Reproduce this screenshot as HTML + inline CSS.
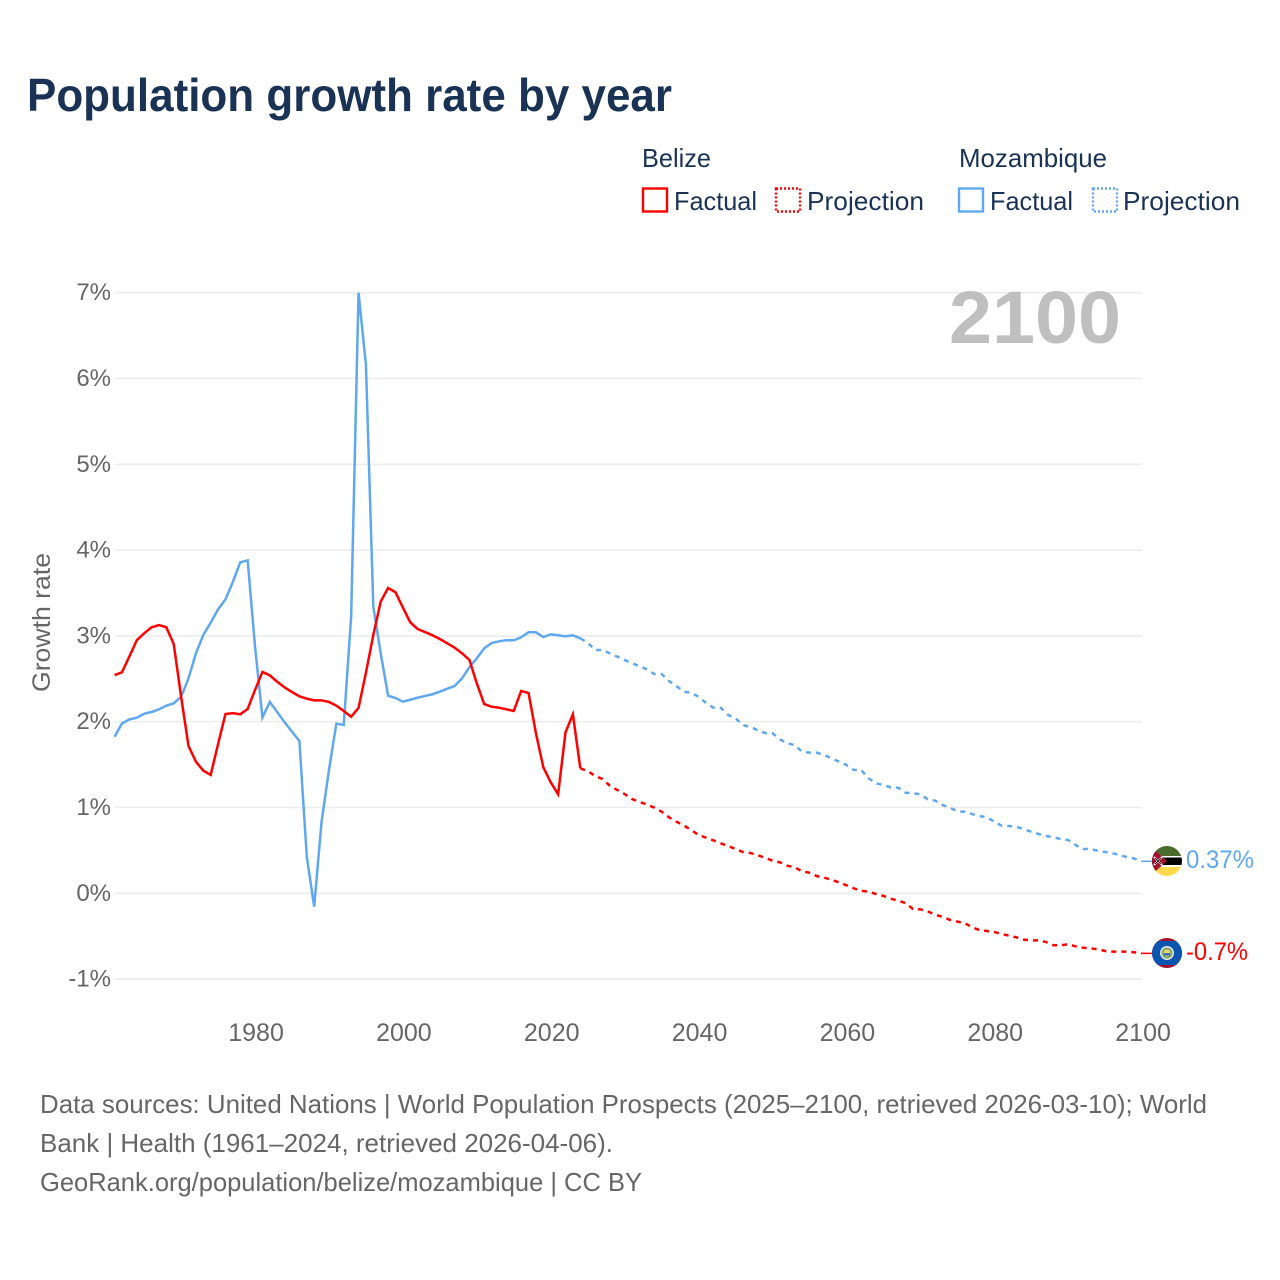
<!DOCTYPE html>
<html lang="en">
<head>
<meta charset="utf-8">
<title>Population growth rate by year</title>
<style>
html,body{margin:0;padding:0;background:#fff;}
svg{display:block;font-family:"Liberation Sans",sans-serif;}
</style>
</head>
<body>
<svg id="chart" xmlns="http://www.w3.org/2000/svg" width="1280" height="1280" viewBox="0 0 1280 1280">
  <rect x="0" y="0" width="1280" height="1280" fill="#ffffff"/>
  <text x="27" y="111" font-size="46" font-weight="700" fill="#1a3355" textLength="645" lengthAdjust="spacingAndGlyphs">Population growth rate by year</text>

  <g font-size="26" fill="#1a3355">
    <text x="642" y="167" textLength="69" lengthAdjust="spacingAndGlyphs">Belize</text>
    <text x="959" y="167" textLength="148" lengthAdjust="spacingAndGlyphs">Mozambique</text>
    <rect x="643" y="188.5" width="24" height="23" fill="none" stroke="#ff0000" stroke-width="2.4"/>
    <text x="674" y="210" textLength="83" lengthAdjust="spacingAndGlyphs">Factual</text>
    <rect x="776" y="188.5" width="24" height="23" fill="none" stroke="#ff0000" stroke-width="2.4" stroke-dasharray="2 2"/>
    <text x="807" y="210" textLength="117" lengthAdjust="spacingAndGlyphs">Projection</text>
    <rect x="959" y="188.5" width="24" height="23" fill="none" stroke="#60a8ee" stroke-width="2.4"/>
    <text x="990" y="210" textLength="83" lengthAdjust="spacingAndGlyphs">Factual</text>
    <rect x="1093" y="188.5" width="24" height="23" fill="none" stroke="#60a8ee" stroke-width="2.4" stroke-dasharray="2 2"/>
    <text x="1123" y="210" textLength="117" lengthAdjust="spacingAndGlyphs">Projection</text>
  </g>

  <g id="grid"></g>
  <g id="y-ticks" font-size="24" fill="#666666" text-anchor="end"></g>
  <g id="x-ticks" font-size="25" fill="#666666" text-anchor="middle"></g>

  <text transform="translate(50,622.5) rotate(-90)" font-size="25" fill="#666666" text-anchor="middle" textLength="139" lengthAdjust="spacingAndGlyphs">Growth rate</text>
  <text x="949" y="343" font-size="74" font-weight="700" fill="#bfbfbf" textLength="172" lengthAdjust="spacingAndGlyphs">2100</text>

  <g id="series"></g>

  <g>
    <clipPath id="clip-moz"><circle cx="1167" cy="861" r="15"/></clipPath>
    <g clip-path="url(#clip-moz)">
      <rect x="1152" y="846" width="30" height="10" fill="#4a6b2c"/>
      <rect x="1152" y="856" width="30" height="1.5" fill="#ffffff"/>
      <rect x="1152" y="857.5" width="30" height="7.5" fill="#000000"/>
      <rect x="1152" y="865" width="30" height="2" fill="#ffffff"/>
      <rect x="1152" y="867" width="30" height="10" fill="#ffd84d"/>
      <polygon points="1150,846 1167,861 1150,876" fill="#a2112e"/>
      <path d="M1154 857 L1162 865 M1162 857 L1154 865" stroke="#ffffff" stroke-width="1.6"/>
      <path d="M1155 858 L1161 864 M1161 858 L1155 864" stroke="#000000" stroke-width="0.8"/>
    </g>
  </g>
  <g>
    <clipPath id="clip-blz"><circle cx="1167" cy="953" r="15"/></clipPath>
    <g clip-path="url(#clip-blz)">
      <rect x="1152" y="938" width="30" height="30" fill="#a2112e"/>
      <rect x="1152" y="941" width="30" height="24" fill="#0a55b0"/>
      <circle cx="1167" cy="953" r="7" fill="#e8e8e0"/>
      <circle cx="1167" cy="953" r="5.5" fill="#7fa870"/>
      <circle cx="1167" cy="953" r="3.4" fill="#f0d860"/>
      <rect x="1163.8" y="953" width="6.4" height="2.6" fill="#3d6fb0"/>
    </g>
  </g>

  <text x="1186" y="868" font-size="25" fill="#60a8ee" textLength="68" lengthAdjust="spacingAndGlyphs">0.37%</text>
  <text x="1186" y="960" font-size="25" fill="#ff0000" textLength="62" lengthAdjust="spacingAndGlyphs">-0.7%</text>

  <g font-size="26" fill="#666666">
    <text x="40" y="1113" textLength="1167" lengthAdjust="spacingAndGlyphs">Data sources: United Nations | World Population Prospects (2025–2100, retrieved 2026-03-10); World</text>
    <text x="40" y="1152" textLength="573" lengthAdjust="spacingAndGlyphs">Bank | Health (1961–2024, retrieved 2026-04-06).</text>
    <text x="40" y="1191" textLength="602" lengthAdjust="spacingAndGlyphs">GeoRank.org/population/belize/mozambique | CC BY</text>
  </g>
</svg>
<script>
const yTickValues = [-1, 0, 1, 2, 3, 4, 5, 6, 7];
const yTickLabels = ["-1%", "0%", "1%", "2%", "3%", "4%", "5%", "6%", "7%"];
const xTickValues = [1980, 2000, 2020, 2040, 2060, 2080, 2100];
const xTickLabels = ["1980", "2000", "2020", "2040", "2060", "2080", "2100"];

const factualStartYear = 1961;
const projectionStartYear = 2024;

const belizeFactual = [2.544,2.576,2.76,2.95,3.03,3.10,3.127,3.10,2.905,2.29,1.717,1.534,1.43,1.38,1.74,2.09,2.10,2.086,2.148,2.37,2.58,2.54,2.466,2.40,2.346,2.296,2.268,2.249,2.249,2.23,2.187,2.125,2.058,2.16,2.57,3.01,3.40,3.558,3.508,3.33,3.158,3.08,3.045,3.007,2.964,2.914,2.863,2.797,2.72,2.447,2.206,2.175,2.163,2.144,2.125,2.358,2.334,1.865,1.468,1.294,1.154,1.876,2.086,1.457];
const belizeProjection = [1.457,1.425,1.367,1.332,1.254,1.204,1.157,1.099,1.064,1.037,0.998,0.951,0.886,0.835,0.79,0.738,0.68,0.648,0.618,0.583,0.551,0.516,0.481,0.47,0.443,0.415,0.38,0.361,0.322,0.303,0.256,0.24,0.2,0.182,0.158,0.128,0.093,0.058,0.03,0.019,-0.008,-0.03,-0.063,-0.086,-0.113,-0.183,-0.187,-0.21,-0.25,-0.273,-0.31,-0.33,-0.346,-0.396,-0.428,-0.44,-0.451,-0.474,-0.494,-0.513,-0.54,-0.548,-0.548,-0.568,-0.606,-0.606,-0.594,-0.618,-0.634,-0.641,-0.653,-0.672,-0.68,-0.68,-0.68,-0.688,-0.70];
const mozambiqueFactual = [1.825,1.98,2.027,2.047,2.093,2.113,2.144,2.187,2.214,2.29,2.505,2.797,3.01,3.154,3.31,3.426,3.63,3.858,3.88,2.874,2.05,2.23,2.113,1.993,1.883,1.775,0.427,-0.156,0.835,1.437,1.977,1.962,3.224,7.0,6.16,3.34,2.797,2.303,2.276,2.233,2.256,2.28,2.30,2.32,2.35,2.385,2.416,2.505,2.634,2.739,2.855,2.917,2.937,2.949,2.949,2.984,3.042,3.042,2.987,3.018,3.007,2.995,3.007,2.972];
const mozambiqueProjection = [2.972,2.92,2.836,2.836,2.797,2.758,2.72,2.68,2.65,2.61,2.556,2.556,2.474,2.416,2.35,2.338,2.29,2.22,2.163,2.163,2.078,2.04,1.96,1.94,1.90,1.868,1.865,1.795,1.748,1.728,1.65,1.639,1.639,1.612,1.573,1.534,1.495,1.437,1.437,1.34,1.282,1.262,1.235,1.231,1.172,1.165,1.154,1.096,1.08,1.029,0.998,0.956,0.951,0.924,0.90,0.886,0.835,0.788,0.784,0.776,0.746,0.718,0.691,0.668,0.653,0.633,0.621,0.563,0.516,0.516,0.496,0.481,0.466,0.446,0.42,0.403,0.373];

const SVG_NS = "http://www.w3.org/2000/svg";
const RED = "#ff0000";
const BLUE = "#60a8ee";

function xScale(year) { return 114.6 + (year - 1961) * 7.392; }
function yScale(value) { return 893.3 - value * 85.8; }

function make(tag, attrs, parent) {
  const el = document.createElementNS(SVG_NS, tag);
  Object.keys(attrs).forEach(function (k) { el.setAttribute(k, attrs[k]); });
  parent.appendChild(el);
  return el;
}

function linePath(startYear, values) {
  return values.map(function (v, i) {
    return (i ? "L" : "M") + xScale(startYear + i).toFixed(2) + " " + yScale(v).toFixed(2);
  }).join(" ");
}

const gridGroup = document.getElementById("grid");
const yTickGroup = document.getElementById("y-ticks");
const xTickGroup = document.getElementById("x-ticks");
const seriesGroup = document.getElementById("series");

yTickValues.forEach(function (v, i) {
  const line = make("line", { x1: 115, x2: 1142, y1: yScale(v), y2: yScale(v), stroke: "#ececec", "stroke-width": 1.6 }, gridGroup);
  
  
  const label = make("text", { x: 111, y: yScale(v) + 7.5 }, yTickGroup);
  
  
  label.textContent = yTickLabels[i];
});

xTickValues.forEach(function (year, i) {
  const label = make("text", { x: xScale(year) + 1, y: 1041 }, xTickGroup);
  
  
  label.textContent = xTickLabels[i];
});

function drawSeries(startYear, values, color, dashed, name) {
  const attrs = { d: linePath(startYear, values), fill: "none", stroke: color, "stroke-width": 2.5, "stroke-linejoin": "miter" };
  if (dashed) attrs["stroke-dasharray"] = "5 5";
  const path = make("path", attrs, seriesGroup);
  
  
}

drawSeries(factualStartYear, mozambiqueFactual, BLUE, false, 'line-mozambique-factual');
drawSeries(projectionStartYear, mozambiqueProjection, BLUE, true, 'line-mozambique-projection');
drawSeries(factualStartYear, belizeFactual, RED, false, 'line-belize-factual');
drawSeries(projectionStartYear, belizeProjection, RED, true, 'line-belize-projection');

function drawConnector(value, color, name) {
  const line = make("line", { x1: xScale(2100), x2: 1153, y1: yScale(value), y2: yScale(value), stroke: color, "stroke-width": 1.5 }, seriesGroup);
  
  
}
drawConnector(mozambiqueProjection[mozambiqueProjection.length - 1], BLUE, 'connector-mozambique');
drawConnector(belizeProjection[belizeProjection.length - 1], RED, 'connector-belize');
</script>
</body>
</html>
